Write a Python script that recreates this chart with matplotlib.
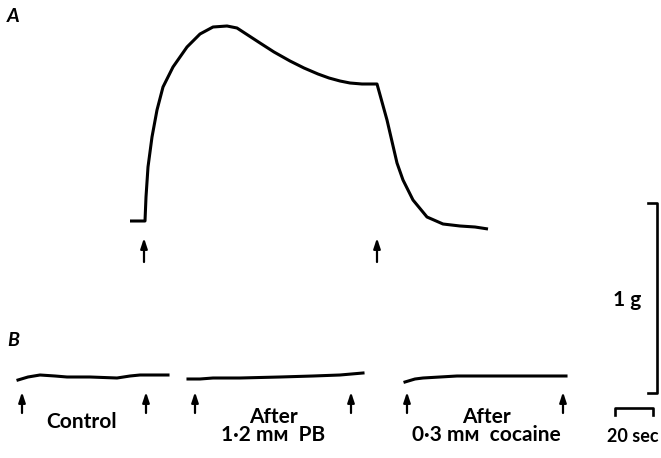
import matplotlib
matplotlib.use("Agg")
import matplotlib.pyplot as plt

# trace A (pixel positions)
trace_a_x = [130, 145, 146, 148, 152, 157, 163, 173, 187, 200, 213, 227, 237, 260,
             274, 290, 304, 318, 329, 340, 350, 362, 377,
             387, 397, 403, 413, 427, 443, 460, 475, 488]
trace_a_y = [221, 221, 197, 167, 137, 110, 87, 67, 47, 34, 27, 26, 28, 43,
             52, 61, 68, 74, 78, 81, 83, 84, 84,
             120, 163, 180, 200, 217, 224, 226, 227, 229]
arrows_a = [144, 377]

# trace B, three records
b_ctrl_x = [18, 28, 40, 55, 67, 90, 117, 130, 140, 155, 168]
b_ctrl_y = [380, 377, 375, 376, 377, 377, 378, 376, 375, 375, 375]
b_pb_x = [188, 200, 213, 240, 280, 313, 340, 363]
b_pb_y = [379, 379, 378, 378, 377, 376, 375, 373]
b_coc_x = [405, 415, 423, 440, 457, 500, 566]
b_coc_y = [382, 379, 378, 377, 376, 376, 376]
arrows_b = [22, 146, 195, 351, 407, 563]

labels_b = ["Control", "After\n1\u00b72 m\u1d0d  PB", "After\n0\u00b73 m\u1d0d  cocaine"]
labels_x = [82, 273, 486]

fig = plt.figure(figsize=(6.61, 4.58), dpi=100)
ax = fig.add_axes([0, 0, 1, 1])
ax.set_xlim(0, 661)
ax.set_ylim(458, 0)
ax.axis("off")

lw = 2.2
ax.plot(trace_a_x, trace_a_y, color="black", lw=lw, solid_capstyle="butt", solid_joinstyle="round")
ax.plot(b_ctrl_x, b_ctrl_y, color="black", lw=lw)
ax.plot(b_pb_x, b_pb_y, color="black", lw=lw)
ax.plot(b_coc_x, b_coc_y, color="black", lw=lw)


def arrow(x, top, bottom):
    ax.annotate("", xy=(x, top), xytext=(x, bottom),
                arrowprops=dict(arrowstyle="-|>,head_length=0.6,head_width=0.2",
                                lw=1.6, color="black", shrinkA=0, shrinkB=0))


for x in arrows_a:
    arrow(x, 238, 262)
for x in arrows_b:
    arrow(x, 392, 413)

fam = ["Lato", "DejaVu Sans"]
wt = "bold"
ax.text(13, 16, "A", fontsize=14, fontweight=wt, style="italic", family=fam, ha="center", va="center")
ax.text(13, 340, "B", fontsize=14, fontweight=wt, style="italic", family=fam, ha="center", va="center")

ax.text(labels_x[0], 422, labels_b[0], fontsize=15, fontweight=wt, family=fam,
        ha="center", va="center")
for lab, x in zip(labels_b[1:], labels_x[1:]):
    ax.text(x, 426, lab, fontsize=15, fontweight=wt, family=fam, ha="center",
            va="center", linespacing=0.9)

# 1 g calibration bracket
ax.plot([648, 657, 657, 648], [203, 203, 393, 393], color="black", lw=1.9)
ax.text(627, 300, "1 g", fontsize=15, fontweight=wt, family=fam, ha="center", va="center")

# 20 sec time bar
ax.plot([615, 615, 653, 653], [415, 408, 408, 415], color="black", lw=1.9)
ax.text(633, 437, "20 sec", fontsize=13, fontweight=wt, family=fam, ha="center", va="center")

fig.savefig("out.png", dpi=100)
